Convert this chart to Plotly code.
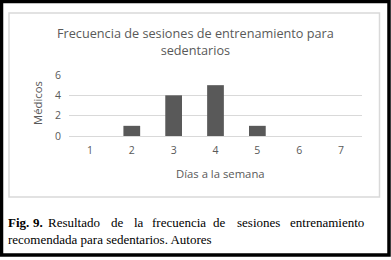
import plotly.graph_objects as go

W, H = 391, 260

dias = ["1", "2", "3", "4", "5", "6", "7"]
medicos = [0, 1, 4, 5, 1, 0, 0]
y_ticks = [0, 2, 4, 6]

title_text = "Frecuencia de sesiones de entrenamiento para<br>sedentarios"
x_title = "Días a la semana"
y_title = "Médicos"
caption_line1 = ["<b>Fig.</b>", "<b>9.</b>", "Resultado", "de", "la", "frecuencia",
                 "de", "sesiones", "entrenamiento"]
caption_line1_x = [8, 33, 48, 111, 134, 152, 213, 237, 290]
caption_line2 = "recomendada para sedentarios. Autores"


def px(x):
    return x / W


def py(y):
    return 1 - y / H


fig = go.Figure()
fig.add_trace(go.Bar(
    x=dias, y=medicos, marker=dict(color="#595959", line=dict(width=0)),
    width=0.4, hoverinfo="skip",
))

grey = "#595959"
font_sans = "Open Sans"
serif = "Liberation Serif"

annotations = [
    dict(text=title_text, x=px(195), y=py(42), xref="paper", yref="paper",
         showarrow=False, font=dict(family=font_sans, size=12.7, color=grey),
         xanchor="center", yanchor="middle"),
    dict(text=x_title, x=px(220), y=py(173), xref="paper", yref="paper",
         showarrow=False, font=dict(family=font_sans, size=11.3, color=grey),
         xanchor="center", yanchor="middle"),
    dict(text=y_title, x=px(38), y=py(103), xref="paper", yref="paper",
         showarrow=False, textangle=-90, font=dict(family=font_sans, size=11.3, color=grey),
         xanchor="center", yanchor="middle"),
    dict(text=caption_line2, x=px(7), y=py(239), xref="paper", yref="paper",
         showarrow=False, borderpad=0, font=dict(family=serif, size=13, color="#000000"),
         xanchor="left", yanchor="middle"),
]
for w, xx in zip(caption_line1, caption_line1_x):
    annotations.append(dict(text=w, x=px(xx - 1), y=py(222), xref="paper", yref="paper",
                            showarrow=False, borderpad=0,
                            font=dict(family=serif, size=13, color="#000000"),
                            xanchor="left", yanchor="middle"))

shapes = [
    dict(type="rect", xref="paper", yref="paper", x0=px(1.5), x1=px(389), y0=py(255), y1=py(1.5),
         line=dict(color="#000000", width=3.5), layer="below"),
    dict(type="rect", xref="paper", yref="paper", x0=px(9), x1=px(379.5), y0=py(197), y1=py(13),
         line=dict(color="#d9d9d9", width=1.5), layer="below"),
]

fig.update_layout(
    width=W, height=H,
    margin=dict(l=0, r=0, t=0, b=0, autoexpand=False),
    paper_bgcolor="#ffffff", plot_bgcolor="rgba(0,0,0,0)",
    showlegend=False, bargap=0.6,
    annotations=annotations, shapes=shapes,
    xaxis=dict(domain=[px(69), px(362)], type="category", showgrid=False,
               showline=True, linecolor="#d9d9d9", linewidth=1, ticks="",
               ticklabelstandoff=4, fixedrange=True,
               tickfont=dict(family=font_sans, size=10.5, color=grey), zeroline=False),
    yaxis=dict(domain=[py(136), py(75)], range=[0, 6], tickvals=y_ticks,
               showgrid=True, gridcolor="#d9d9d9", gridwidth=1, zeroline=False,
               showline=False, ticks="", ticklabelstandoff=7, fixedrange=True,
               tickfont=dict(family=font_sans, size=10.5, color=grey)),
)

fig.write_html("out.html", config={"displayModeBar": False},
               post_script="document.body.style.margin='0';document.body.style.overflow='hidden';")
